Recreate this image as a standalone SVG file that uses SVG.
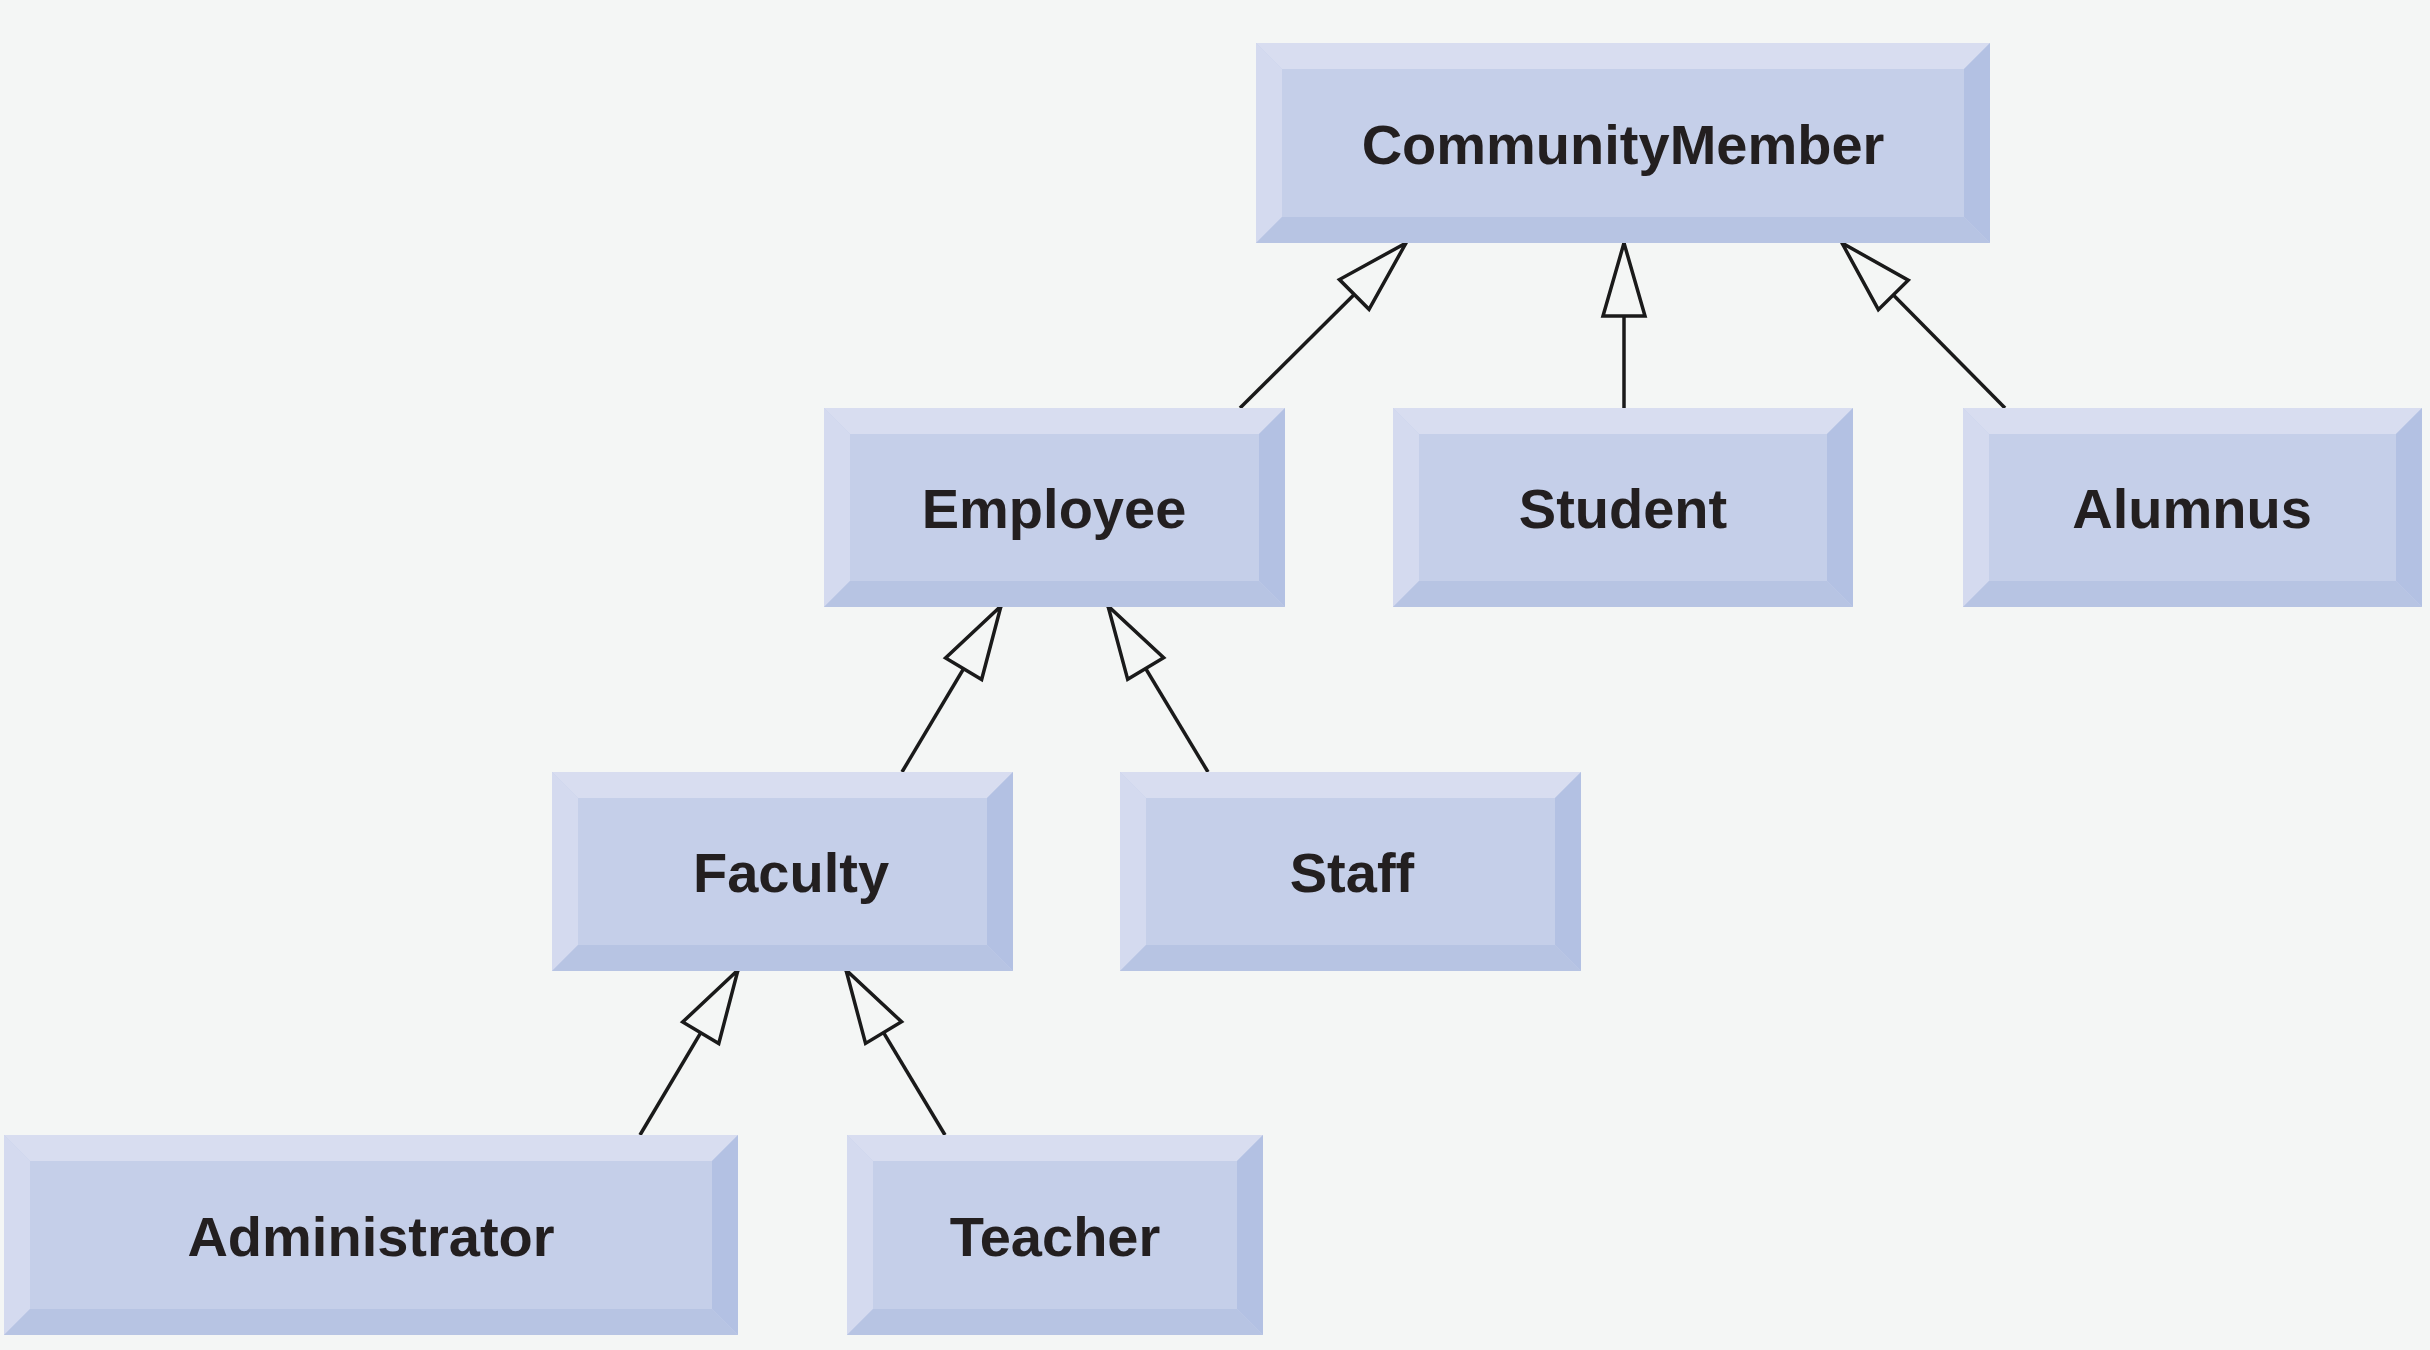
<svg xmlns="http://www.w3.org/2000/svg" width="2430" height="1350" viewBox="0 0 2430 1350">
<style>
.face{fill:#c5cfe9}
.bt{fill:#d8ddf0}
.bl{fill:#d4daef}
.br{fill:#b3c1e3}
.bb{fill:#b7c4e3}
.lbl{font-family:"Liberation Sans",Arial,sans-serif;font-weight:bold;font-size:56px;fill:#231f20;text-anchor:middle}
.con{stroke:#1a1a1a;stroke-width:3.5;fill:none}
</style>
<defs>
<marker id="tri" markerUnits="userSpaceOnUse" viewBox="-80 -26 84 52" markerWidth="84" markerHeight="52" refX="0" refY="0" orient="auto" overflow="visible">
<path d="M0,0 L-73,-21 L-73,21 Z" fill="#f4f6f5" stroke="#1a1a1a" stroke-width="3.5" stroke-linejoin="miter"/>
</marker>
</defs>
<rect width="2430" height="1350" fill="#f4f6f5"/>
<g id="connectors">
<line class="con" x1="1240" y1="408" x2="1406" y2="243" marker-end="url(#tri)"/>
<line class="con" x1="1624" y1="408" x2="1624" y2="243" marker-end="url(#tri)"/>
<line class="con" x1="2005" y1="408" x2="1842" y2="243" marker-end="url(#tri)"/>
<line class="con" x1="902" y1="772" x2="1001" y2="606" marker-end="url(#tri)"/>
<line class="con" x1="1208" y1="772" x2="1108" y2="606" marker-end="url(#tri)"/>
<line class="con" x1="640" y1="1135" x2="738" y2="970" marker-end="url(#tri)"/>
<line class="con" x1="945" y1="1135" x2="846" y2="970" marker-end="url(#tri)"/>
</g>
<g id="CommunityMember">
<rect class="face" x="1256" y="43" width="734" height="200"/>
<path class="bt" d="M1256,43 H1990 L1964,69 H1282 Z"/>
<path class="bl" d="M1256,43 L1282,69 V217 L1256,243 Z"/>
<path class="br" d="M1990,43 V243 L1964,217 V69 Z"/>
<path class="bb" d="M1256,243 H1990 L1964,217 H1282 Z"/>
<text class="lbl" x="1623" y="164">CommunityMember</text>
</g>
<g id="Employee">
<rect class="face" x="824" y="408" width="461" height="199"/>
<path class="bt" d="M824,408 H1285 L1259,434 H850 Z"/>
<path class="bl" d="M824,408 L850,434 V581 L824,607 Z"/>
<path class="br" d="M1285,408 V607 L1259,581 V434 Z"/>
<path class="bb" d="M824,607 H1285 L1259,581 H850 Z"/>
<text class="lbl" x="1054" y="528">Employee</text>
</g>
<g id="Student">
<rect class="face" x="1393" y="408" width="460" height="199"/>
<path class="bt" d="M1393,408 H1853 L1827,434 H1419 Z"/>
<path class="bl" d="M1393,408 L1419,434 V581 L1393,607 Z"/>
<path class="br" d="M1853,408 V607 L1827,581 V434 Z"/>
<path class="bb" d="M1393,607 H1853 L1827,581 H1419 Z"/>
<text class="lbl" x="1623" y="528">Student</text>
</g>
<g id="Alumnus">
<rect class="face" x="1963" y="408" width="459" height="199"/>
<path class="bt" d="M1963,408 H2422 L2396,434 H1989 Z"/>
<path class="bl" d="M1963,408 L1989,434 V581 L1963,607 Z"/>
<path class="br" d="M2422,408 V607 L2396,581 V434 Z"/>
<path class="bb" d="M1963,607 H2422 L2396,581 H1989 Z"/>
<text class="lbl" x="2192" y="528">Alumnus</text>
</g>
<g id="Faculty">
<rect class="face" x="552" y="772" width="461" height="199"/>
<path class="bt" d="M552,772 H1013 L987,798 H578 Z"/>
<path class="bl" d="M552,772 L578,798 V945 L552,971 Z"/>
<path class="br" d="M1013,772 V971 L987,945 V798 Z"/>
<path class="bb" d="M552,971 H1013 L987,945 H578 Z"/>
<text class="lbl" x="791" y="892">Faculty</text>
</g>
<g id="Staff">
<rect class="face" x="1120" y="772" width="461" height="199"/>
<path class="bt" d="M1120,772 H1581 L1555,798 H1146 Z"/>
<path class="bl" d="M1120,772 L1146,798 V945 L1120,971 Z"/>
<path class="br" d="M1581,772 V971 L1555,945 V798 Z"/>
<path class="bb" d="M1120,971 H1581 L1555,945 H1146 Z"/>
<text class="lbl" x="1352" y="892">Staff</text>
</g>
<g id="Administrator">
<rect class="face" x="4" y="1135" width="734" height="200"/>
<path class="bt" d="M4,1135 H738 L712,1161 H30 Z"/>
<path class="bl" d="M4,1135 L30,1161 V1309 L4,1335 Z"/>
<path class="br" d="M738,1135 V1335 L712,1309 V1161 Z"/>
<path class="bb" d="M4,1335 H738 L712,1309 H30 Z"/>
<text class="lbl" x="371" y="1256">Administrator</text>
</g>
<g id="Teacher">
<rect class="face" x="847" y="1135" width="416" height="200"/>
<path class="bt" d="M847,1135 H1263 L1237,1161 H873 Z"/>
<path class="bl" d="M847,1135 L873,1161 V1309 L847,1335 Z"/>
<path class="br" d="M1263,1135 V1335 L1237,1309 V1161 Z"/>
<path class="bb" d="M847,1335 H1263 L1237,1309 H873 Z"/>
<text class="lbl" x="1055" y="1256">Teacher</text>
</g>
</svg>
